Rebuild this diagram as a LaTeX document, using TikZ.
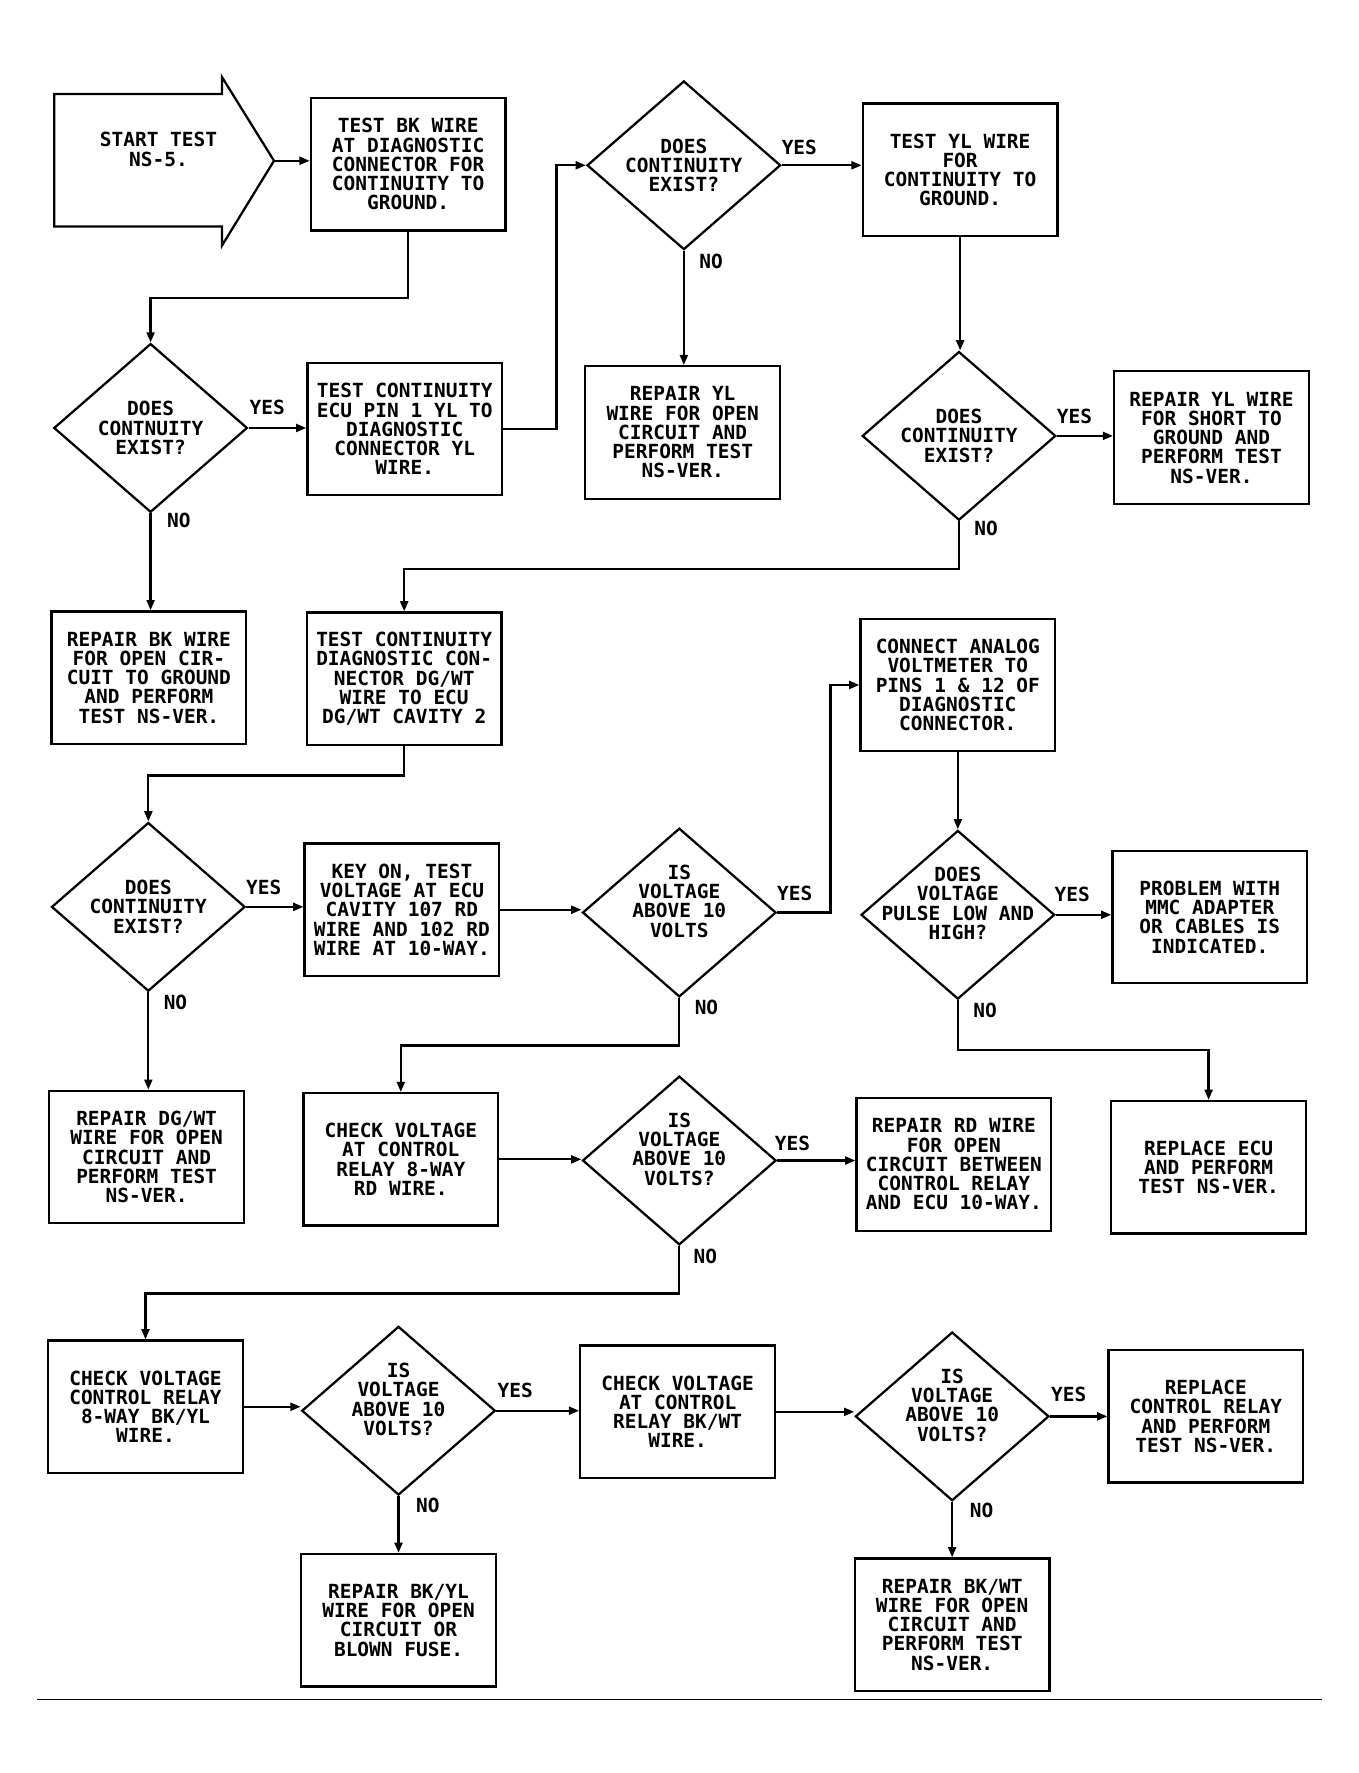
\documentclass[tikz,border=0pt]{standalone}
\usepackage{fontspec}
\newfontfamily\plotfont{DejaVu Sans Mono}
\usetikzlibrary{shapes.geometric,arrows.meta}
\begin{document}
\begin{tikzpicture}[x=0.5pt,y=-0.5pt,line width=1pt]
\tikzstyle{every node}=[font=\plotfont\bfseries\fontsize{8.6}{8.5}\selectfont,align=center,inner sep=0pt]
\tikzstyle{box}=[draw,rectangle,minimum width=86pt,minimum height=58.5pt]
\tikzstyle{dia}=[draw,diamond,minimum width=85.5pt,minimum height=74.5pt]
\tikzstyle{arr}=[-{Triangle[length=4.5pt,width=3.5pt]}]
\useasboundingbox (0,0) rectangle (1200,1566);
% start arrow
\draw (48,83) -- (196,83) -- (196,68) -- (242,142) -- (196,217) -- (196,200) -- (48,200) -- cycle;
\node (start) at (140,132) {START TEST\\NS-5.};
\coordinate (starttip) at (242,142);
% boxes
\node[box](b1) at (360.5,145) {TEST BK WIRE\\AT DIAGNOSTIC\\CONNECTOR FOR\\CONTINUITY TO\\GROUND.};
\node[box](b2) at (357.5,379) {TEST CONTINUITY\\ECU PIN 1 YL TO\\DIAGNOSTIC\\CONNECTOR YL\\WIRE.};
\node[box](b3) at (848,150) {TEST YL WIRE\\FOR\\CONTINUITY TO\\GROUND.};
\node[box](b4) at (603,382) {REPAIR YL\\WIRE FOR OPEN\\CIRCUIT AND\\PERFORM TEST\\NS-VER.};
\node[box](b5) at (1070,386.5) {REPAIR YL WIRE\\FOR SHORT TO\\GROUND AND\\PERFORM TEST\\NS-VER.};
\node[box](b6) at (131.5,598.5) {REPAIR BK WIRE\\FOR OPEN CIR-\\CUIT TO GROUND\\AND PERFORM\\TEST NS-VER.};
\node[box](b7) at (357,599.5) {TEST CONTINUITY\\DIAGNOSTIC CON-\\NECTOR DG/WT\\WIRE TO ECU\\DG/WT CAVITY 2};
\node[box](b8) at (355,803.5) {KEY ON, TEST\\VOLTAGE AT ECU\\CAVITY 107 RD\\WIRE AND 102 RD\\WIRE AT 10-WAY.};
\node[box](b9) at (846,605) {CONNECT ANALOG\\VOLTMETER TO\\PINS 1 \& 12 OF\\DIAGNOSTIC\\CONNECTOR.};
\node[box](b10) at (1068.5,810) {PROBLEM WITH\\MMC ADAPTER\\OR CABLES IS\\INDICATED.};
\node[box](b11) at (1067.5,1031) {REPLACE ECU\\AND PERFORM\\TEST NS-VER.};
\node[box](b12) at (129.5,1022) {REPAIR DG/WT\\WIRE FOR OPEN\\CIRCUIT AND\\PERFORM TEST\\NS-VER.};
\node[box](b13) at (354,1024) {CHECK VOLTAGE\\AT CONTROL\\RELAY 8-WAY\\RD WIRE.};
\node[box](b14) at (842.5,1028.5) {REPAIR RD WIRE\\FOR OPEN\\CIRCUIT BETWEEN\\CONTROL RELAY\\AND ECU 10-WAY.};
\node[box](b15) at (128.5,1242.5) {CHECK VOLTAGE\\CONTROL RELAY\\8-WAY BK/YL\\WIRE.};
\node[box](b16) at (598.5,1247) {CHECK VOLTAGE\\AT CONTROL\\RELAY BK/WT\\WIRE.};
\node[box](b17) at (352,1431) {REPAIR BK/YL\\WIRE FOR OPEN\\CIRCUIT OR\\BLOWN FUSE.};
\node[box](b18) at (1065,1251) {REPLACE\\CONTROL RELAY\\AND PERFORM\\TEST NS-VER.};
\node[box](b19) at (841,1435) {REPAIR BK/WT\\WIRE FOR OPEN\\CIRCUIT AND\\PERFORM TEST\\NS-VER.};
% decisions
\node[dia,label={center:DOES\\CONTNUITY\\EXIST?}](d1) at (133,378) {};
\node[dia,label={center:DOES\\CONTINUITY\\EXIST?}](d2) at (604,146) {};
\node[dia,label={center:DOES\\CONTINUITY\\EXIST?}](d3) at (847,385) {};
\node[dia,label={center:DOES\\CONTINUITY\\EXIST?}](d4) at (131,801) {};
\node[dia,label={[yshift=5pt]center:IS\\VOLTAGE\\ABOVE 10\\VOLTS}](d5) at (600,806) {};
\node[dia,label={[yshift=5pt]center:DOES\\VOLTAGE\\PULSE LOW AND\\HIGH?}](d6) at (846,808) {};
\node[dia,label={[yshift=5pt]center:IS\\VOLTAGE\\ABOVE 10\\VOLTS?}](d7) at (600,1025) {};
\node[dia,label={[yshift=5pt]center:IS\\VOLTAGE\\ABOVE 10\\VOLTS?}](d8) at (352,1246) {};
\node[dia,label={[yshift=5pt]center:IS\\VOLTAGE\\ABOVE 10\\VOLTS?}](d9) at (841,1251) {};
% yes / no
\node at (236,360) {YES}; \node at (158,460) {NO};
\node at (706,130) {YES}; \node at (628,231) {NO};
\node at (949,368) {YES}; \node at (871,467) {NO};
\node at (233,784) {YES}; \node at (155,885) {NO};
\node at (702,789) {YES}; \node at (624,890) {NO};
\node at (947,790) {YES}; \node at (870,892) {NO};
\node at (700,1010) {YES}; \node at (623,1110) {NO};
\node at (455,1228) {YES}; \node at (378,1330) {NO};
\node at (944,1232) {YES}; \node at (867,1334) {NO};
% connectors
\draw[arr] (starttip) -- (starttip -| b1.west);
\draw[arr] (b1.south) -- ++(0,59) -| (d1.north);
\draw[arr] (d1.east) -- (d1.east -| b2.west);
\draw[arr] (d1.south) -- (d1.south |- b6.north);
\draw[arr] (b2.east) -- ++(47,0) |- (d2.west);
\draw[arr] (d2.east) -- (d2.east -| b3.west);
\draw[arr] (d2.south) -- (d2.south |- b4.north);
\draw[arr] (b3.south) -- (b3.south |- d3.north);
\draw[arr] (d3.east) -- (d3.east -| b5.west);
\draw[arr] (d3.south) -- ++(0,42) -| (b7.north);
\draw[arr] (b7.south) -- ++(0,26) -| (d4.north);
\draw[arr] (d4.east) -- (d4.east -| b8.west);
\draw[arr] (d4.south) -- (d4.south |- b12.north);
\draw[arr] (b8.east) -- (b8.east -| d5.west);
\draw[arr] (d5.east) -- ++(47,0) |- (b9.west);
\draw[arr] (b9.south) -- (b9.south |- d6.north);
\draw[arr] (d6.east) -- (d6.east -| b10.west);
\draw[arr] (d6.south) -- ++(0,44) -| (b11.north);
\draw[arr] (d5.south) -- ++(0,42) -| (b13.north);
\draw[arr] (b13.east) -- (b13.east -| d7.west);
\draw[arr] (d7.east) -- (d7.east -| b14.west);
\draw[arr] (d7.south) -- ++(0,42) -| (b15.north);
\draw[arr] (b15.east) -- (b15.east -| d8.west);
\draw[arr] (d8.east) -- (d8.east -| b16.west);
\draw[arr] (d8.south) -- (d8.south |- b17.north);
\draw[arr] (b16.east) -- (b16.east -| d9.west);
\draw[arr] (d9.east) -- (d9.east -| b18.west);
\draw[arr] (d9.south) -- (d9.south |- b19.north);
% bottom rule
\draw[line width=0.5pt] (33,1501) -- (1168,1501);
\end{tikzpicture}
\end{document}
